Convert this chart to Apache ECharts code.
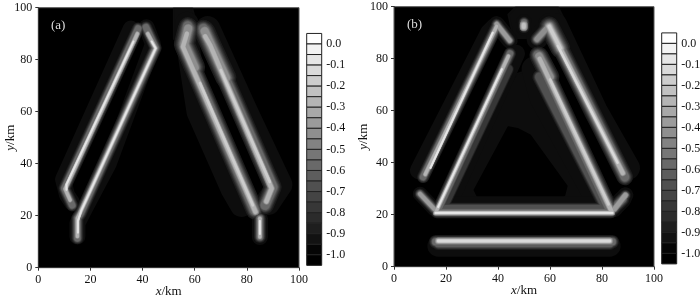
<!DOCTYPE html>
<html><head><meta charset="utf-8">
<style>html,body{margin:0;padding:0;background:#fff}#c{width:700px;height:299px;filter:blur(0.7px)}</style>
<script src="https://cdn.jsdelivr.net/npm/echarts@6/dist/echarts.min.js"></script>
</head><body><div id="c"></div>
<script>
// ---------- data (km) ----------
const barEdges = [0.05,0,-0.05,-0.1,-0.15,-0.2,-0.25,-0.3,-0.35,-0.4,-0.45,-0.5,-0.55,-0.6,-0.65,-0.7,-0.75,-0.8,-0.85,-0.9,-0.95,-1,-1.05];
const grayLevels = [13,28,42,55,67,80,92,105,117,130,142,155,167,180,192,205,217,230,242,255];

// panel (a) ridges
const a1Low  = [[35.5,92],[9.5,34],[11,28],[13,25]];
const a1Mid  = [[38.3,92],[10,30.5],[13,24]];
const a1Core = [[38,90],[10.3,30.3],[12.2,26]];
const a1Hot  = [[36.5,87],[10.8,32],[10.8,30]];
const a2Low  = [[41.5,92.5],[44,86],[27,40],[17.5,22],[15,17],[15,12]];
const a2Mid  = [[41.3,92.5],[45,84.5],[16.3,21],[15,19],[15,11.3]];
const a2Core = [[42,90],[45,84.4],[16,21],[15,19],[15,12]];
const a2Hot  = [[43.5,87],[45,84.4],[16.5,22],[15.2,18],[15.2,13.5]];
const a3Low  = [[57,94],[57,88],[61.3,60],[74.5,30],[78,24]];
const a3Mid  = [[57.3,93],[55.8,85],[83,22]];
const a3Core = [[57,90],[55.5,85],[83.3,21.5]];
const a3Hot  = [[62,71],[82.3,24]];
const a3Top  = [[57.5,92],[56,86],[60,77]];
const a3Tail = [[85,19],[85,11.8]];
const a3TailHot = [[85,18],[85,13]];
const a4Low  = [[65,92],[79.5,60],[92.7,32],[88,25]];
const a4Mid  = [[63.3,92],[66,86],[90,31],[87,24]];
const a4Core = [[64,89],[66,85.5],[89.5,30.5],[87.5,25.5]];
const a4Hot  = [[70,76],[88.8,33]];
const a4Top  = [[63.8,91],[66.5,85],[72,73]];
const aTopHalo = [[52,100],[59,100],[61,92],[52,88]];

// panel (b) ridges
const b1Low  = [[39,92.5],[36.5,90],[9.5,37]];
const b1Mid  = [[39.7,92.8],[11.2,34.5]];
const b1Core = [[39.5,92.5],[12,35.5]];
const b1Hot  = [[38,90],[14,38]];
const b1Arm  = [[39.5,93.3],[44.5,87]];
const b2Low  = [[47,82],[20,22]];
const b2Mid  = [[44.6,82],[17,22]];
const b2Core = [[44,81],[16.2,21.2]];
const b2Hot  = [[41.5,76],[17,23]];
const b2Glow = [[44,76],[19,23]];
const b3Low  = [[54,76],[57,65],[79,25]];
const b3Mid  = [[55.3,81.5],[83,22]];
const b3Core = [[56,80],[83.7,21.2]];
const b3Hot  = [[60,72],[82.5,24]];
const b3Top  = [[55.8,81],[60,73]];
const b3Glow = [[56,73],[81,24]];
const b4Low  = [[60,93],[62,93],[77.5,60],[90,38]];
const b4Mid  = [[59.8,92.6],[88.8,34.5]];
const b4Core = [[59.7,92.4],[88,36]];
const b4Hot  = [[63,85],[86,40]];
const b4Top  = [[59.7,92.4],[64,84]];
const b4Arm  = [[59.6,92.6],[55,87.5]];
const b5Low  = [[22,23.5],[78,23.5]];
const b5Mid  = [[16.5,21],[83.5,21]];
const b5Core = [[16,20.7],[84,20.7]];
const b5Glow = [[20,22.3],[80,22.3]];
const b6Low  = [[17,8],[83,8]];
const b6Mid  = [[16,9.6],[84,9.6]];
const b6Core = [[17,9.9],[83,9.9]];
const b6Glow = [[17,9],[83,9]];
const b7Path = [[10,28],[15.5,22.2]];
const b8Low  = [[88,26],[86,24]];
const b8Path = [[89,27.5],[84.8,22.2]];
const b9Low  = [[50,94],[50,92]];
const b9Spot = [[49.9,93],[49.9,92.2]];

// interior and top shades of panel (b)
const bTopHalo   = [[44,97],[47,100],[63,100],[66,94],[56,88],[46,88]];
const bFillOuter = [[47,74],[50,75],[53,74],[85,20],[15,20]];
const bFillCore  = [[44,53.6],[47.5,53],[52.3,50.5],[66.4,31],[65.5,27.5],[32,27.5],[31,29.5]];

// ---------- styles ----------
const widths = [16,11,9.5,8.5,7.6,6.9,6.2,5.6,5,4.5,4,3.6,3.2,2.8,2.4,2,1.7,1.4,1,0.7];
const stageOf = i => i < 1 ? 0 : i < 8 ? 1 : i < 14 ? 2 : 3;
const gray = g => `rgb(${g},${g},${g})`;

const ridgesA = [
  {p:[a1Low,a1Mid,a1Core,a1Hot],  s:[1,1.1,1,1],      top:17},
  {p:[a2Low,a2Mid,a2Core,a2Hot],  s:[1,1.1,1,1],      top:17},
  {p:[a3Tail,a3Tail,a3Tail,a3TailHot],s:[1,1.1,1,1],top:17},
  {p:[a3Low,a3Mid,a3Core,a3Hot],  s:[1.45,1.6,1.4,1.2], top:15},
  {p:[a3Top,a3Top,a3Top,a3Top],   s:[1,1.9,1.9,1.2], top:10},
  {p:[a4Low,a4Mid,a4Core,a4Hot],  s:[1.55,1.6,1.4,1.2], top:15},
  {p:[a4Top,a4Top,a4Top,a4Top],   s:[1,1.9,1.9,1.2], top:10}
];
const ridgesB = [
  {p:[b2Glow,b2Glow,b2Glow,b2Glow], s:[1,1,0,0], top:3},
  {p:[b3Glow,b3Glow,b3Glow,b3Glow], s:[1,1.3,0,0], top:5},
  {p:[b5Glow,b5Glow,b5Glow,b5Glow], s:[1,1.1,0,0], top:5},
  {p:[b6Glow,b6Glow,b6Glow,b6Glow], s:[1,1.2,0,0], top:6},
  {p:[b9Low,b9Low,b9Spot,b9Spot],  s:[1,1,1.6,1.5],  top:14},
  {p:[b1Low,b1Mid,b1Core,b1Hot],  s:[1.1,1.1,1,1],    top:17},
  {p:[b1Arm,b1Arm,b1Arm,b1Arm],   s:[1,1,1.1,1],  top:11},
  {p:[b2Low,b2Mid,b2Core,b2Hot],  s:[1.1,1.1,1,1],    top:17},
  {p:[b3Low,b3Mid,b3Core,b3Hot],  s:[1.6,1.5,1.35,1.2], top:15},
  {p:[b3Top,b3Top,b3Top,b3Top],   s:[1,1.7,1.7,1], top:10},
  {p:[b4Low,b4Mid,b4Core,b4Hot],  s:[1.5,1.5,1.35,1.2],  top:16},
  {p:[b4Top,b4Top,b4Top,b4Top],   s:[1,1.8,1.8,1.6], top:15},
  {p:[b4Arm,b4Arm,b4Arm,b4Arm],   s:[1.3,1.2,1.2,1.2],  top:10},
  {p:[b5Low,b5Mid,b5Core,b5Core],  s:[1.1,1.1,1.1,1.1],  top:17},
  {p:[b6Low,b6Mid,b6Core,b6Core],  s:[1.35,1.2,1.4,1.4],top:16},
  {p:[b7Path,b7Path,b7Path,b7Path],s:[0.9,1,1,1],  top:11},
  {p:[b8Low,b8Low,b8Path,b8Path],  s:[1.1,1.2,1.2,1.2],top:11},
  {p:[b8Path,b8Path,b8Path,b8Path],s:[1,1,1,1],  top:11}
];

function ridgeSeries(ridges, gi){
  const out = [];
  grayLevels.forEach((g,i)=>{
    ridges.forEach(r=>{
      if(i > r.top) return;
      const st = stageOf(i), w = widths[i]*r.s[st];
      if(w <= 0) return;
      out.push({type:'line',xAxisIndex:gi,yAxisIndex:gi,data:r.p[st],showSymbol:false,symbol:'none',
        silent:true,animation:false,clip:true,
        lineStyle:{color:gray(g),width:w,cap:'round',join:'round'}});
    });
  });
  return out;
}
function polySeries(pts, color, gi){
  return {type:'custom',xAxisIndex:gi,yAxisIndex:gi,data:[0],silent:true,animation:false,clip:true,
    renderItem:(p,api)=>({type:'polygon',shape:{points:pts.map(v=>api.coord(v))},
      style:{fill:color,stroke:color,lineWidth:2,lineJoin:'round'}})};
}
function barSeries(gi){
  const cells = barEdges.slice(0,-1).map((e,i)=>[e,barEdges[i+1],i]);
  return {type:'custom',xAxisIndex:gi,yAxisIndex:gi,data:cells,silent:true,animation:false,
    encode:{y:[0,1]},
    renderItem:(p,api)=>{
      const a=api.coord([0,api.value(0)]), b=api.coord([1,api.value(1)]);
      const g=Math.max(0,Math.round(255-api.value(2)*12.5));
      return {type:'rect',shape:{x:a[0],y:a[1],width:b[0]-a[0],height:b[1]-a[1]},
        style:{fill:gray(g),stroke:'#222',lineWidth:1}};
    }};
}
const font = 'Liberation Serif';
const fs = 12;
const nameRich = {i:{fontFamily:font,fontStyle:'italic',fontSize:13,color:'#111'},n:{fontFamily:font,fontSize:13,color:'#111'}};
const valAxis = (gi,name,gap)=>({gridIndex:gi,type:'value',min:0,max:100,interval:20,
  name,nameLocation:'middle',nameGap:gap,nameMoveOverlap:false,nameTextStyle:{rich:nameRich,fontFamily:font,fontSize:13},
  splitLine:{show:false},
  axisLine:{show:true,onZero:false,lineStyle:{color:'#333',width:1}},
  axisTick:{show:true,length:3,inside:false,lineStyle:{color:'#333'}},
  axisLabel:{fontFamily:font,fontSize:fs,color:'#111',margin:6}});
const barX = gi=>({gridIndex:gi,type:'value',min:0,max:1,show:false});
const barY = gi=>({gridIndex:gi,type:'value',min:-1.1,max:0.1,interval:0.1,position:'right',
  splitLine:{show:false},axisLine:{show:false},axisTick:{show:false},
  axisLabel:{fontFamily:font,fontSize:fs,color:'#111',margin:4.5,formatter:v=>v.toFixed(1),
    showMinLabel:false,showMaxLabel:false,align:'left'}});

const option = {
  backgroundColor:'#fff',animation:false,
  title:[
    {text:'(a)',left:46,top:14,textStyle:{fontFamily:font,fontSize:13,fontWeight:'normal',color:'#ddd'}},
    {text:'(b)',left:402,top:13,textStyle:{fontFamily:font,fontSize:13,fontWeight:'normal',color:'#ddd'}}
  ],
  grid:[
    {left:38.3,top:7.7,width:260.7,height:260,show:true,backgroundColor:'#000',borderColor:'#555',borderWidth:1,outerBoundsMode:'none'},
    {left:394,top:6.7,width:260,height:260,show:true,backgroundColor:'#000',borderColor:'#555',borderWidth:1,outerBoundsMode:'none'},
    {left:306.7,top:22.9,width:15,height:253,outerBoundsMode:'none'},
    {left:661.7,top:22.4,width:15,height:252,outerBoundsMode:'none'}
  ],
  xAxis:[valAxis(0,'{i|x}{n|/km}',17),valAxis(1,'{i|x}{n|/km}',17),barX(2),barX(3)],
  yAxis:[valAxis(0,'{i|y}{n|/km}',21),valAxis(1,'{i|y}{n|/km}',24),barY(2),barY(3)],
  series:[
    polySeries(aTopHalo,gray(13),0),
    ...ridgeSeries(ridgesA,0),
    polySeries(bTopHalo,gray(13),1),
    polySeries(bFillOuter,gray(13),1),
    polySeries(bFillCore,'#000',1),
    ...ridgeSeries(ridgesB,1),
    barSeries(2),barSeries(3)
  ]
};
echarts.init(document.getElementById('c'),null,{renderer:'canvas'}).setOption(option);
</script></body></html>
